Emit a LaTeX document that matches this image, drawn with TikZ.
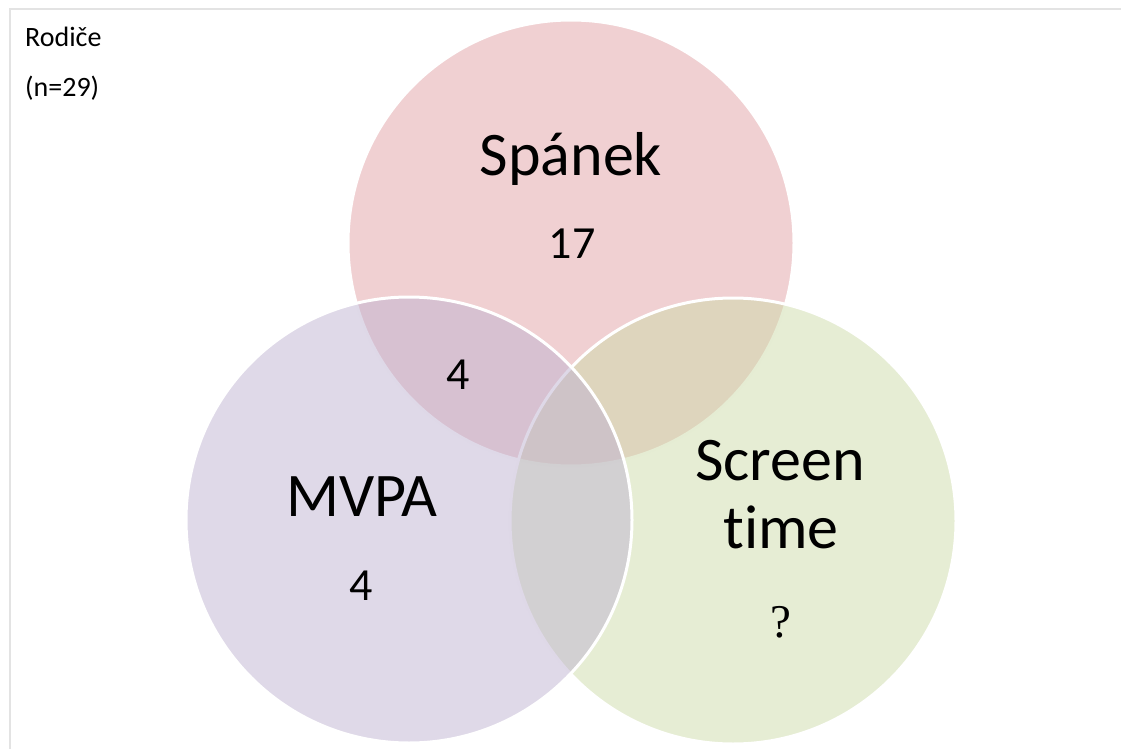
\documentclass[tikz,border=0pt]{standalone}
\usepackage{fontspec}
\setmainfont{Carlito}[Ligatures=NoCommon]
\newfontfamily\qfont{Liberation Serif}
\usetikzlibrary{positioning}

\definecolor{sleepcol}{RGB}{225,161,165}
\definecolor{mvpacol}{RGB}{191,179,209}
\definecolor{screencol}{RGB}{205,219,169}
\definecolor{framecol}{RGB}{227,227,227}

\begin{document}
\begin{tikzpicture}[x=1pt,y=-1pt,
		set/.style={circle,draw=white,line width=3pt,fill opacity=0.5,inner sep=0pt,minimum size=446pt},
		title/.style={anchor=base,inner sep=0pt,font=\fontsize{62}{68}\selectfont},
		count/.style={anchor=base,inner sep=0pt,font=\fontsize{46}{50}\selectfont},
		note/.style={anchor=base west,inner sep=0pt,font=\fontsize{28}{32}\selectfont}]

	\useasboundingbox (0,0) rectangle (1121,749);
	\draw[framecol,line width=2pt] (10,749) -- (10,9) -- (1121,9);

	% MVPA last, its outline lies on top
	\node[set,fill=sleepcol] (spanek) at (571,243) {};
	\node[set,fill=screencol] (screen) at (733,521) {};
	\node[set,fill=mvpacol] (mvpa) at (409,520) {};

	\node[note] (rodice) at (25,47) {Rodiče};
	\node[note] (n) at (25,97) {(n=29)};

	\node[title] (spanektitle) at (571,175) {Spánek};
	\node[count] (spanekcount) at (572,258) {17};
	\node[count] (sharedcount) at (458,389) {4};
	\node[title] (mvpatitle) at (362,516) {MVPA};
	\node[count] (mvpacount) at (361,600) {4};
	\node[title] (screentitle) at (780,480) {Screen};
	\node[title] (timetitle) at (781,548) {time};
	\node[anchor=base,inner sep=0pt,font=\qfont\fontsize{47}{50}\selectfont] (screencount) at (781,637) {?};
\end{tikzpicture}
\end{document}
